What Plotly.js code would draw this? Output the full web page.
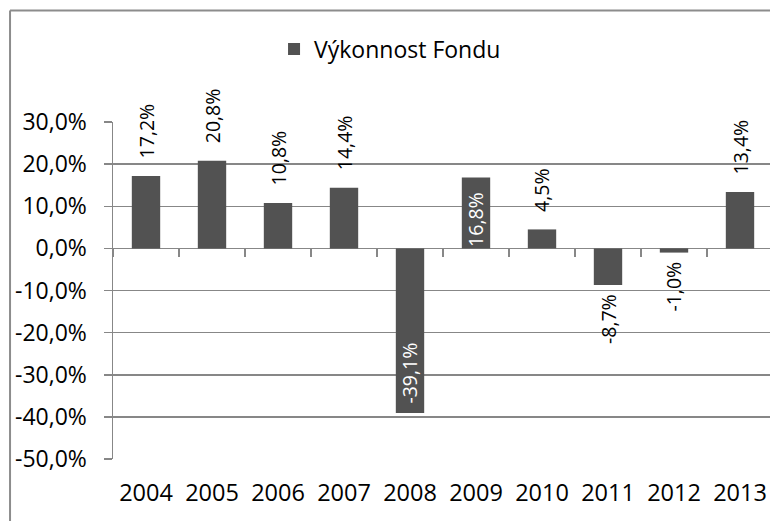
<!DOCTYPE html>
<html>
<head>
<meta charset="utf-8">
<script src="https://cdn.plot.ly/plotly-3.0.1.min.js"></script>
<style>
html,body{margin:0;padding:0;background:#fff;overflow:hidden;width:770px;height:521px;}
#chart{width:790px;height:521px;}
</style>
</head>
<body>
<div id="chart"></div>
<script>
// ---- data ----
const years = ['2004','2005','2006','2007','2008','2009','2010','2011','2012','2013'];
const returns = [17.2, 20.8, 10.8, 14.4, -39.1, 16.8, 4.5, -8.7, -1.0, 13.4];
const seriesName = 'Výkonnost Fondu';
const yTickVals = [-50, -40, -30, -20, -10, 0, 10, 20, 30];

// ---- label styling (placement only) ----
const labelMode = ['out','out','out','out','inEnd','inBase','out','out','out','out'];
const PCT = '\u0025';
const fmt = v => v.toFixed(1).replace('.', ',') + PCT;
const yTickText = yTickVals.map(fmt);

const FONT = '"Open Sans", Lato, sans-serif';
const GRID = '#878787';

const annotations = years.map((yr, i) => {
  const v = returns[i];
  const m = labelMode[i];
  const a = {
    x: i, xref: 'x', yref: 'y', text: fmt(v), textangle: -90,
    showarrow: false, borderpad: 0, xanchor: 'center',
    font: {family: FONT, size: 19.5, color: '#000'}
  };
  if (m === 'out') {
    a.y = v;
    if (v >= 0) { a.yanchor = 'bottom'; a.yshift = 16; }
    else { a.yanchor = 'top'; a.yshift = -8; }
  } else if (m === 'inEnd') {
    a.y = v; a.yanchor = 'bottom'; a.yshift = 8; a.font.color = '#fff';
  } else {
    a.y = 0; a.yanchor = 'bottom'; a.yshift = 0; a.font.color = '#fff';
  }
  return a;
});

const traces = [
  {
    type: 'bar', x: years, y: returns, name: seriesName,
    width: 0.43,
    marker: {color: '#525252'},
    hoverinfo: 'x+y'
  },
  {
    type: 'scatter', mode: 'none', x: years, y: returns, xaxis: 'x2', yaxis: 'y',
    showlegend: false, hoverinfo: 'skip'
  }
];

const layout = {
  width: 790, height: 521,
  margin: {l: 113, r: 17, t: 122, b: 62},
  paper_bgcolor: '#fff', plot_bgcolor: '#fff',
  separators: ', ',
  font: {family: FONT, size: 23, color: '#000'},
  showlegend: true,
  legend: {
    orientation: 'h', x: 0.244, xanchor: 'left', y: 1.2166, yanchor: 'middle',
    font: {family: FONT, size: 23, color: '#000'}, bgcolor: 'rgba(0,0,0,0)'
  },
  xaxis: {
    type: 'category', range: [-0.5, 9.5], fixedrange: true,
    showline: false, showgrid: false, zeroline: false, ticks: '',
    ticklabelstandoff: 17,
    tickfont: {family: FONT, size: 23.5, color: '#000'}
  },
  xaxis2: {
    type: 'category', overlaying: 'x', anchor: 'free', position: 0.625,
    range: [-0.5, 9.5], fixedrange: true,
    showline: false, showgrid: false, zeroline: false,
    ticks: 'outside', tickson: 'boundaries', ticklen: 8, tickwidth: 1.5, tickcolor: GRID,
    showticklabels: false
  },
  yaxis: {
    range: [-50, 30], tickvals: yTickVals, ticktext: yTickText, fixedrange: true,
    showgrid: true, gridcolor: GRID, gridwidth: 1.5,
    zeroline: false,
    showline: true, linecolor: GRID, linewidth: 1.5,
    ticks: 'outside', ticklen: 8, tickwidth: 1.5, tickcolor: GRID,
    ticklabelstandoff: 12,
    tickfont: {family: FONT, size: 23, color: '#000'}
  },
  annotations: annotations,
  shapes: [
    {type: 'line', xref: 'paper', yref: 'paper', x0: -0.156, x1: 1.2, y0: 1.331, y1: 1.331,
     line: {color: '#8c8c8c', width: 2}},
    {type: 'line', xref: 'paper', yref: 'paper', x0: -0.156, x1: -0.156, y0: 1.331, y1: -0.3,
     line: {color: '#8c8c8c', width: 2}}
  ]
};

Plotly.newPlot('chart', traces, layout, {displayModeBar: false, staticPlot: true});
</script>
</body>
</html>
